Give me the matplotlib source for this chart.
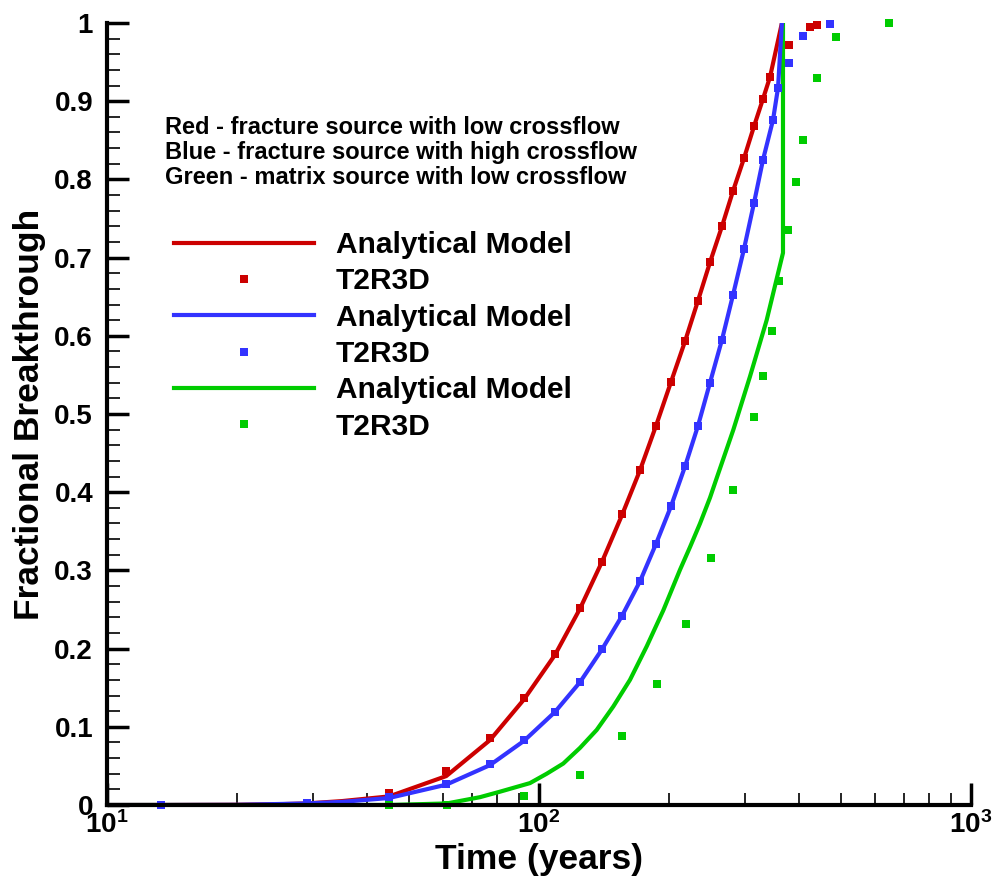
import matplotlib
matplotlib.use("Agg")
import matplotlib.pyplot as plt
import numpy as np

plt.rcParams['font.family'] = ['Liberation Sans', 'DejaVu Sans']
plt.rcParams['font.weight'] = 'bold'
plt.rcParams['mathtext.fontset'] = 'custom'
plt.rcParams['mathtext.rm'] = 'Liberation Sans:bold'
plt.rcParams['mathtext.bf'] = 'Liberation Sans:bold'
plt.rcParams['mathtext.it'] = 'Liberation Sans:bold'

# ---------------- data ----------------
red_line_t = [10, 13.3, 20, 25, 29, 35, 45, 61, 77, 92.3, 108.9, 124.4, 139.9, 155.7, 171.3,
              186.6, 202.1, 217.8, 233.4, 248.8, 265.2, 281.2, 298.2, 314.6, 330.0, 342.6, 365]
red_line_y = [0, 0, 0.0003, 0.001, 0.002, 0.005, 0.011, 0.037, 0.083, 0.135, 0.192, 0.251,
              0.311, 0.371, 0.428, 0.485, 0.541, 0.593, 0.645, 0.694, 0.740, 0.785, 0.827,
              0.868, 0.903, 0.931, 1.0]

red_pts_t = [13.3, 29.0, 45.0, 61.0, 77.0, 92.3, 108.9, 124.4, 139.9, 155.7, 171.3, 186.6,
             202.1, 217.8, 233.4, 248.8, 265.2, 281.2, 298.2, 314.6, 330.0, 342.6, 379.1,
             424.0, 440.1]
red_pts_y = [0.0, 0.003, 0.015, 0.043, 0.086, 0.137, 0.193, 0.252, 0.311, 0.372, 0.428,
             0.485, 0.541, 0.593, 0.645, 0.694, 0.740, 0.785, 0.827, 0.868, 0.903, 0.931,
             0.972, 0.995, 0.998]

blue_line_t = [10, 13.3, 20, 29, 35, 45, 61, 77, 92.3, 108.9, 124.4, 139.9, 155.7, 171.3,
               186.6, 202.1, 217.8, 233.4, 248.8, 265.2, 281.2, 298.2, 314.6, 330.0, 348.1,
               357.5, 365]
blue_line_y = [0, 0, 0.0002, 0.002, 0.004, 0.009, 0.026, 0.051, 0.082, 0.119, 0.157, 0.199,
               0.242, 0.286, 0.334, 0.382, 0.433, 0.485, 0.540, 0.595, 0.652, 0.711, 0.770,
               0.825, 0.876, 0.917, 1.0]

blue_pts_t = [13.3, 29.0, 45.0, 61.0, 77.0, 92.3, 108.9, 124.4, 139.9, 155.7, 171.3, 186.6,
              202.1, 217.8, 233.4, 248.8, 265.2, 281.2, 298.2, 314.6, 330.0, 348.1, 357.5,
              379.1, 408.4, 471.7]
blue_pts_y = [0.0, 0.003, 0.010, 0.027, 0.052, 0.083, 0.119, 0.157, 0.199, 0.242, 0.286,
              0.334, 0.382, 0.433, 0.485, 0.540, 0.595, 0.652, 0.711, 0.770, 0.825, 0.876,
              0.917, 0.949, 0.983, 0.999]

green_line_t = [10, 45, 61.2, 73.0, 81.2, 95.3, 104.2, 113.8, 124.4, 136.0, 148.6, 162.4,
                177.6, 194.0, 212.1, 223.7, 235.9, 248.8, 257.8, 281.8, 307.9, 336.5,
                367.1, 367.1]
green_line_y = [0, 0, 0.002, 0.010, 0.017, 0.028, 0.040, 0.053, 0.073, 0.096, 0.126, 0.160,
                0.203, 0.249, 0.301, 0.330, 0.360, 0.393, 0.418, 0.480, 0.548, 0.620,
                0.706, 1.0]

green_pts_t = [45.0, 61.1, 92.3, 124.4, 155.7, 187.6, 219.4, 249.9, 281.6, 314.6, 330.0,
               346.6, 359.3, 377.1, 393.4, 408.4, 440.1, 486.9, 645.8]
green_pts_y = [0.0, 0.0, 0.011, 0.038, 0.088, 0.155, 0.232, 0.316, 0.403, 0.496, 0.549,
               0.606, 0.670, 0.735, 0.797, 0.850, 0.930, 0.982, 1.000]

x_ticks = [10, 100, 1000]
x_tick_labels = [r'$\mathbf{10^{1}}$', r'$\mathbf{10^{2}}$', r'$\mathbf{10^{3}}$']
y_ticks = [0, 0.1, 0.2, 0.3, 0.4, 0.5, 0.6, 0.7, 0.8, 0.9, 1.0]
y_tick_labels = ['0', '0.1', '0.2', '0.3', '0.4', '0.5', '0.6', '0.7', '0.8', '0.9', '1']

notes = ['Red - fracture source with low crossflow',
         'Blue - fracture source with high crossflow',
         'Green - matrix source with low crossflow']

RED = '#CC0000'
BLUE = '#3333FF'
GREEN = '#00CC00'

# ---------------- figure ----------------
W, H = 998, 881
fig = plt.figure(figsize=(W / 100, H / 100), dpi=100)
ax = fig.add_axes([107 / W, (H - 805) / H, 864 / W, 782 / H])

lw = 3.0
ms = 6.0
ax.plot(green_line_t, green_line_y, color=GREEN, lw=lw, zorder=2)
ax.plot(red_line_t, red_line_y, color=RED, lw=lw, zorder=2)
ax.plot(red_pts_t, red_pts_y, ls='none', marker='s', ms=ms, color=RED, mew=0,
        clip_on=False, zorder=3)
ax.plot(blue_line_t, blue_line_y, color=BLUE, lw=lw, zorder=2)
ax.plot(blue_pts_t, blue_pts_y, ls='none', marker='s', ms=ms, color=BLUE, mew=0,
        clip_on=False, zorder=3)
ax.plot(green_pts_t, green_pts_y, ls='none', marker='s', ms=ms, color=GREEN, mew=0,
        clip_on=False, zorder=3)

ax.set_xscale('log')
ax.set_xlim(10, 1000)
ax.set_ylim(0, 1)

for s in ['top', 'right']:
    ax.spines[s].set_visible(False)
for s in ['left', 'bottom']:
    ax.spines[s].set_linewidth(3)
    ax.spines[s].set_zorder(4)

ax.set_xticks(x_ticks)
ax.set_xticklabels(x_tick_labels, fontsize=20)
ax.set_yticks(y_ticks)
ax.set_yticklabels(y_tick_labels, fontsize=20, fontweight='bold')
ax.yaxis.set_minor_locator(matplotlib.ticker.MultipleLocator(0.02))
ax.xaxis.set_minor_locator(matplotlib.ticker.LogLocator(base=10, subs=np.arange(2, 10)))
ax.xaxis.set_minor_formatter(matplotlib.ticker.NullFormatter())

ax.tick_params(axis='both', which='major', direction='in', length=16, width=2.5, color='black')
ax.tick_params(axis='both', which='minor', direction='in', length=9, width=1.2, color='black')
ax.tick_params(axis='x', which='major', pad=4.5)
ax.tick_params(axis='y', which='major', pad=10)

ax.set_xlabel('Time (years)', fontsize=25.5, fontweight='bold', va='top')
ax.xaxis.set_label_coords(0.5, -(843 - 805) / 782)
ax.set_ylabel('Fractional Breakthrough', fontsize=25.5, fontweight='bold', va='center')
ax.yaxis.set_label_coords(-(107 - 30) / 864, 0.5)

# annotation text
ys = [0.866, 0.834, 0.803]
for txt, yy in zip(notes, ys):
    ax.text(0.067, yy, txt, transform=ax.transAxes, fontsize=17, fontweight='bold',
            ha='left', va='center')

# legend (order: red line, red pts, blue line, blue pts, green line, green pts)
h = ax.get_lines()
handles = [h[1], h[2], h[3], h[4], h[0], h[5]]
labels = ['Analytical Model', 'T2R3D', 'Analytical Model', 'T2R3D', 'Analytical Model', 'T2R3D']
leg = ax.legend(handles, labels, loc='upper left',
                bbox_to_anchor=(174 / W, 1 - 231 / H), bbox_transform=fig.transFigure,
                frameon=False, handlelength=4.7, handletextpad=0.72,
                labelspacing=0.28, borderpad=0, borderaxespad=0, numpoints=1,
                prop={'weight': 'bold', 'size': 21.5})

fig.savefig('out.png', dpi=100)
